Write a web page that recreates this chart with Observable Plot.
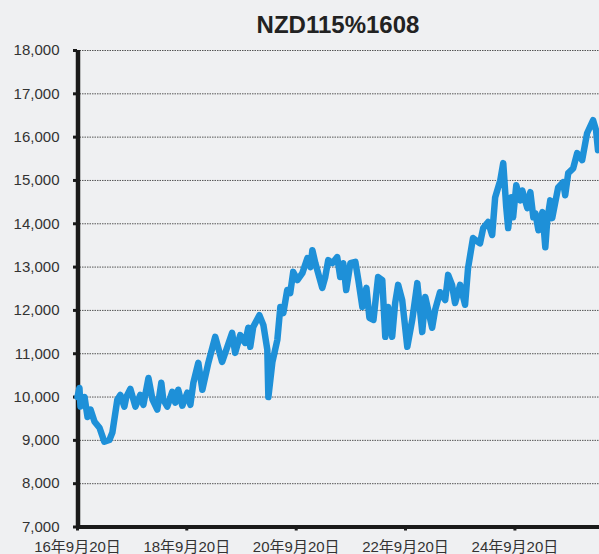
<!DOCTYPE html>
<html>
<head>
<meta charset="utf-8">
<script src="https://cdn.jsdelivr.net/npm/d3@7"></script>
<script src="https://cdn.jsdelivr.net/npm/@observablehq/plot@0.6"></script>
<style>
  html, body { margin: 0; padding: 0; background: #eff0f2; }
  #wrap { width: 599px; height: 554px; overflow: hidden; background: #eff0f2; }
  #title { height: 40px; box-sizing: border-box; padding-top: 13px; padding-left: 77px;
    font: bold 24px/24px Arial, "Liberation Sans", sans-serif; color: #222; text-align: center; }
  svg { display: block; }
</style>
</head>
<body>
<div id="wrap">
  <div id="title">NZD115%1608</div>
  <div id="chart"></div>
</div>
<script>
const dates = [
  "2016-09-20","2016-10-03","2016-10-10","2016-11-06","2016-11-26","2016-12-16","2017-01-12","2017-02-14",
  "2017-03-18","2017-04-21","2017-05-11","2017-06-13","2017-07-03","2017-07-30","2017-08-12","2017-09-08",
  "2017-10-12","2017-11-14","2017-12-04","2018-01-07","2018-02-03","2018-03-07","2018-04-03","2018-04-16",
  "2018-05-13","2018-06-15","2018-07-05","2018-07-25","2018-08-21","2018-09-24","2018-10-14","2018-11-03",
  "2018-12-06","2019-01-02","2019-02-11","2019-03-29","2019-05-14","2019-07-20","2019-08-09","2019-09-12",
  "2019-10-15","2019-11-05","2019-11-18","2019-12-08","2020-01-18","2020-02-14","2020-03-11","2020-03-18",
  "2020-04-14","2020-05-17","2020-06-06","2020-06-26","2020-07-22","2020-08-11","2020-08-31","2020-09-28",
  "2020-10-31","2020-12-04","2020-12-24","2021-01-06","2021-01-26","2021-03-13","2021-04-02","2021-04-22",
  "2021-05-19","2021-06-21","2021-07-11","2021-07-31","2021-08-20","2021-09-17","2021-10-20","2021-11-09",
  "2021-12-06","2022-01-02","2022-01-22","2022-02-18","2022-03-21","2022-04-18","2022-05-08","2022-05-27",
  "2022-06-23","2022-07-13","2022-08-02","2022-08-29","2022-10-02","2022-11-04","2022-12-08","2023-01-10",
  "2023-01-30","2023-03-17","2023-04-06","2023-05-09","2023-06-12","2023-07-02","2023-07-28","2023-08-17",
  "2023-09-20","2023-10-23","2023-11-12","2023-12-15","2024-01-31","2024-02-21","2024-03-25","2024-04-21",
  "2024-05-11","2024-06-14","2024-07-04","2024-07-24","2024-08-06","2024-08-26","2024-09-08","2024-09-29",
  "2024-10-26","2024-11-08","2024-12-12","2025-01-01","2025-01-21","2025-02-04","2025-02-24","2025-03-23",
  "2025-04-11","2025-04-24","2025-05-14","2025-05-27","2025-07-06","2025-08-08","2025-08-22","2025-09-11",
  "2025-10-14","2025-11-10","2025-12-13","2026-01-15","2026-02-24","2026-03-16","2026-03-29"
];
const values = [
  10000,10210,9780,10000,9540,9710,9430,9290,
  8970,9010,9180,9940,10050,9780,10000,10190,
  9780,10050,9820,10440,9940,9710,10330,9940,
  9780,10120,9870,10170,9800,10100,9820,10330,
  10790,10170,10790,11390,10810,11480,11020,11430,
  11250,11600,11160,11620,11890,11660,11090,10000,
  10810,11320,12080,11940,12470,12400,12890,12700,
  12860,13210,13000,13390,13090,12520,12770,13160,
  13090,13230,12770,13090,12470,13090,13120,12700,
  12080,12520,11830,11780,12770,12700,11390,12080,
  11390,12170,12590,12240,11160,11780,12630,11500,
  12310,11600,12010,12420,12240,12820,12590,12170,
  12590,12130,12980,13670,13550,13900,14040,13740,
  14610,15000,15400,14380,13900,14610,14150,14890,
  14540,14770,14360,14730,14150,14240,13850,14270,
  13460,14080,14540,14130,14840,14960,14660,15170,
  15280,15630,15470,16090,16390,16160,15700
];
const yTicks = [7000, 8000, 9000, 10000, 11000, 12000, 13000, 14000, 15000, 16000, 17000, 18000];
const xTickDates = ["2016-09-20", "2018-09-20", "2020-09-20", "2022-09-20", "2024-09-20"];
const xTickLabels = ["16年9月20日", "18年9月20日", "20年9月20日", "22年9月20日", "24年9月20日"];

const data = dates.map((d, i) => ({date: new Date(d), value: values[i]}));
const xTicks = xTickDates.map(d => new Date(d));
const labelOf = new Map(xTicks.map((d, i) => [+d, xTickLabels[i]]));

const chart = Plot.plot({
  width: 599,
  height: 514,
  marginTop: 10,
  marginBottom: 27.5,
  marginLeft: 77,
  marginRight: 0,
  style: {
    background: "#eff0f2",
    fontFamily: "Arial, 'Liberation Sans', 'Noto Sans CJK JP', sans-serif",
    fontSize: "15px",
    color: "#333",
    overflow: "visible"
  },
  x: {type: "utc", domain: [new Date("2016-09-20"), new Date("2026-04-08")]},
  y: {domain: [7000, 18000]},
  marks: [
    Plot.gridY(yTicks.filter(t => t > 7000), {stroke: "#444", strokeOpacity: 0.9, strokeWidth: 1, strokeDasharray: "1.5,1"}),
    Plot.axisY(yTicks, {tickSize: 4, tickPadding: 14, stroke: "#1a1a1a", strokeWidth: 3, fill: "#333", tickFormat: d3.format(","), label: null}),
    Plot.axisX(xTicks, {tickSize: 4, tickPadding: 10, stroke: "#1a1a1a", strokeWidth: 3, fill: "#333", tickFormat: d => labelOf.get(+d), label: null}),
    Plot.ruleY([7000], {stroke: "#1a1a1a", strokeWidth: 4}),
    Plot.ruleX([new Date("2016-09-20")], {stroke: "#1a1a1a", strokeWidth: 4.5, y1: 7000, y2: 18000, dx: 0.5}),
    Plot.line(data, {x: "date", y: "value", stroke: "#1e90d8", strokeWidth: 6.5, strokeLinejoin: "round", strokeLinecap: "round"})
  ]
});
document.getElementById("chart").appendChild(chart);
</script>
</body>
</html>
